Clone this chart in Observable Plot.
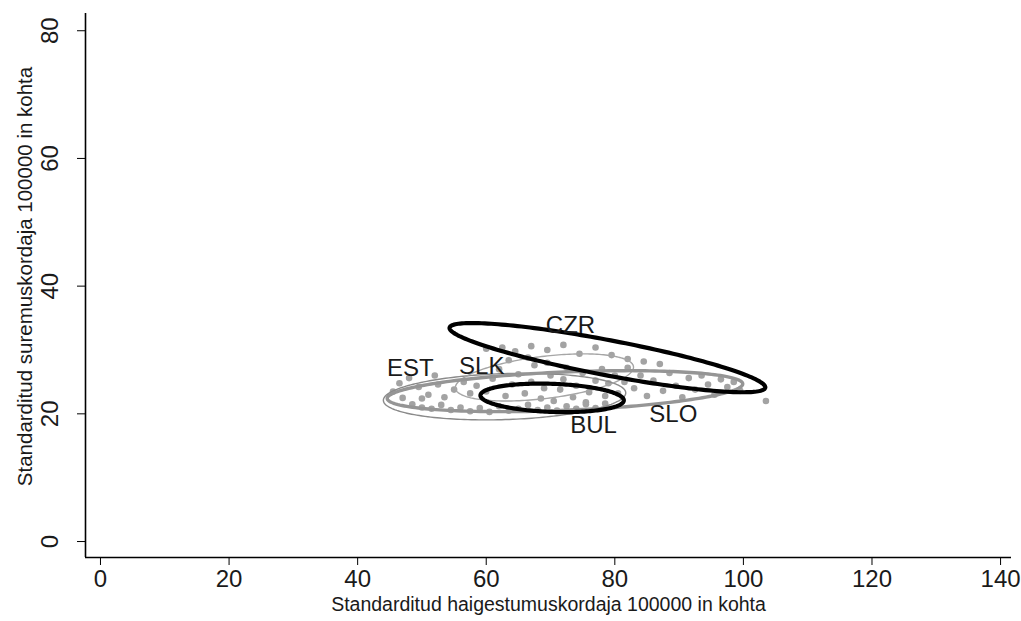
<!DOCTYPE html>
<html>
<head>
<meta charset="utf-8">
<script src="https://cdn.jsdelivr.net/npm/d3@7"></script>
<script src="https://cdn.jsdelivr.net/npm/@observablehq/plot@0.6"></script>
<style>
  html, body { margin: 0; padding: 0; background: #fff; }
</style>
</head>
<body>
<div id="chart"></div>
<script>
// ---- Data ----
const countries = ["CZR", "BUL", "EST", "SLK", "SLO"];
// ellipse end points (major axis tips) and half-width (semi-minor axis)
const tipAx = [54.3, 59.1, 44.0, 55.2, 44.6];
const tipAy = [33.5, 22.9, 22.1, 24.0, 22.4];
const tipBx = [103.4, 81.4, 81.7, 82.9, 99.9];
const tipBy = [24.1, 22.1, 23.3, 27.4, 24.7];
const halfWidth = [2.75, 2.2, 3.6, 3.3, 3.0];
// label positions
const labelX = [73.1, 76.7, 48.2, 59.3, 89.1];
const labelY = [33.8, 18.2, 27.2, 27.4, 19.9];
// observations (incidence, mortality)
const obsX = [
  47.0, 48.5, 50.0, 51.5, 53.0, 54.5, 56.0, 57.5, 59.0, 60.5, 62.0, 63.5, 65.0, 66.5, 68.0, 69.5, 71.0, 72.5, 74.0, 75.5, 77.0, 78.5,
  45.5, 46.5, 48.0, 49.5, 51.0, 52.5, 53.5, 55.0, 56.5, 57.5, 58.5, 52.0, 50.0,
  60.0, 61.0, 62.0, 63.0, 64.0, 65.0, 66.0, 67.0, 67.5, 68.5, 69.0, 70.0, 70.5, 71.5, 72.0, 72.5, 73.5, 74.0, 75.0, 75.5, 76.0, 77.0, 78.0, 78.5, 79.0, 80.0, 80.5, 81.5, 82.0, 63.5, 66.5, 69.5,
  60.0, 62.5, 64.5, 67.0, 69.5, 72.0, 74.5, 77.0, 79.5, 82.0, 84.5, 87.0,
  83.0, 84.0, 85.0, 86.0, 87.5, 88.5, 89.5, 90.5, 91.5, 92.5, 93.5, 94.5, 95.5, 96.5, 97.5, 98.5, 99.5, 103.5
];
const obsY = [
  22.5, 21.5, 21.0, 20.8, 21.4, 20.6, 21.0, 20.4, 20.9, 20.3, 21.2, 20.5, 20.8, 21.4, 20.6, 21.0, 20.5, 21.2, 20.8, 21.5, 20.9, 21.6,
  23.5, 24.8, 25.6, 24.2, 23.0, 24.6, 22.6, 23.8, 25.0, 23.2, 24.4, 26.0, 22.4,
  23.5, 25.5, 27.0, 22.8, 24.6, 26.2, 23.2, 25.0, 27.6, 22.4, 24.0, 26.0, 22.0, 23.8, 25.4, 27.2, 22.6, 24.4, 26.4, 21.8, 23.4, 25.2, 27.0, 22.8, 24.8, 26.0, 23.2, 25.0, 27.2, 28.4, 28.8, 28.0,
  30.2, 30.4, 29.8, 30.6, 30.0, 30.8, 29.4, 30.4, 29.2, 28.6, 28.2, 27.8,
  24.0, 26.0, 22.8, 25.2, 23.6, 26.4, 24.4, 22.6, 25.6, 23.8, 26.0, 24.6, 23.0, 25.4, 24.2, 25.0, 23.6, 22.0
];
const xTicks = [0, 20, 40, 60, 80, 100, 120, 140];
const yTicks = [0, 20, 40, 60, 80];
const xTitle = "Standarditud haigestumuskordaja 100000 in kohta";
const yTitle = "Standarditud suremuskordaja 100000 in kohta";

// ---- Styles ----
const ellipseStyle = {
  CZR: {stroke: "#000", strokeWidth: 4.2},
  BUL: {stroke: "#000", strokeWidth: 4.2},
  EST: {stroke: "#8a8a8a", strokeWidth: 1.4},
  SLK: {stroke: "#a6a6a6", strokeWidth: 1.4},
  SLO: {stroke: "#959595", strokeWidth: 3.4}
};
const drawOrder = ["EST", "SLK", "SLO", "BUL", "CZR"];

const points = obsX.map((x, i) => ({x, y: obsY[i]}));
const labels = countries.map((c, i) => ({c, x: labelX[i], y: labelY[i]}));

function ellipseRows(i) {
  const N = 200;
  const cx = (tipAx[i] + tipBx[i]) / 2, cy = (tipAy[i] + tipBy[i]) / 2;
  const ux = (tipBx[i] - tipAx[i]) / 2, uy = (tipBy[i] - tipAy[i]) / 2;
  const len = Math.hypot(ux, uy);
  const vx = -uy / len * halfWidth[i], vy = ux / len * halfWidth[i];
  return d3.range(N + 1).map(k => {
    const t = 2 * Math.PI * k / N;
    return {x: cx + ux * Math.cos(t) + vx * Math.sin(t), y: cy + uy * Math.cos(t) + vy * Math.sin(t)};
  });
}

const xMin = -2.33, yMin = -2.5;
const font = "'Liberation Sans', Arial, Helvetica, sans-serif";

const chart = Plot.plot({
  width: 1021,
  height: 621,
  marginLeft: 85,
  marginRight: 10,
  marginTop: 13,
  marginBottom: 64,
  style: {fontFamily: font, background: "#fff", color: "#111", overflow: "visible"},
  x: {domain: [xMin, 141.7]},
  y: {domain: [yMin, 82.7]},
  marks: [
    Plot.dot(points, {x: "x", y: "y", r: 3.3, fill: "#a3a3a3", stroke: "none"}),
    ...drawOrder.map(c => {
      const i = countries.indexOf(c);
      return Plot.line(ellipseRows(i), {x: "x", y: "y", curve: "linear", ...ellipseStyle[c]});
    }),
    Plot.text(labels, {x: "x", y: "y", text: "c", fontSize: 24, fill: "#1a1a1a"}),
    Plot.ruleY([yMin], {stroke: "#000", strokeWidth: 1.6}),
    Plot.ruleX([xMin], {stroke: "#000", strokeWidth: 1.6}),
    Plot.axisX(xTicks, {tickSize: 8, tickPadding: 4, fontSize: 24, label: null, stroke: "#000", fill: "#1a1a1a"}),
    Plot.axisY(yTicks, {tickSize: 8, tickRotate: -90, tickPadding: 20, fontSize: 24, label: null, stroke: "#000", fill: "#1a1a1a"}),
    Plot.text([xTitle], {frameAnchor: "bottom", dy: 53, fontSize: 19.5, fill: "#1a1a1a"}),
    Plot.text([yTitle], {frameAnchor: "left", textAnchor: "middle", rotate: -90, dx: -60, dy: -9, fontSize: 20.5, fill: "#1a1a1a"})
  ]
});
document.getElementById("chart").appendChild(chart);
</script>
</body>
</html>
